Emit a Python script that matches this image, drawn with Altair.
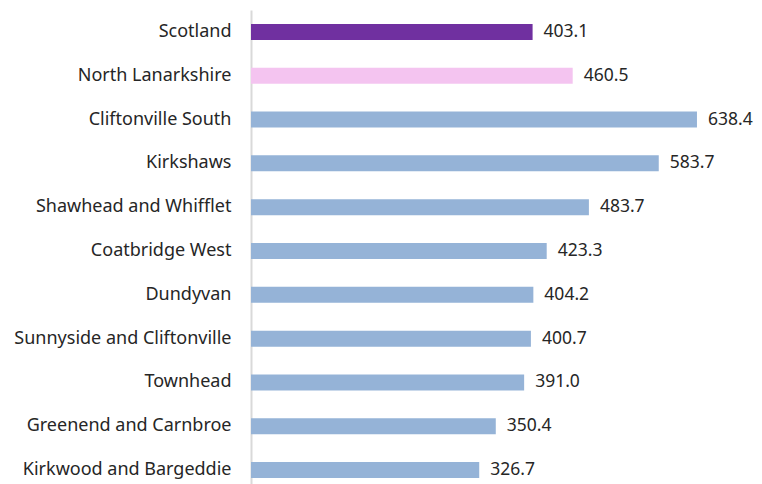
import altair as alt
import pandas as pd

areas = ["Scotland", "North Lanarkshire", "Cliftonville South", "Kirkshaws",
         "Shawhead and Whifflet", "Coatbridge West", "Dundyvan",
         "Sunnyside and Cliftonville", "Townhead", "Greenend and Carnbroe",
         "Kirkwood and Bargeddie"]
values = [403.1, 460.5, 638.4, 583.7, 483.7, 423.3, 404.2, 400.7, 391.0, 350.4, 326.7]
groups = ["Scotland", "North Lanarkshire"] + ["Ward"] * 9
colors = ["#7030A0", "#F4C4F0", "#95B3D7"]

df = pd.DataFrame({"area": areas, "value": values, "group": groups})
df["label"] = df["value"].map(lambda v: f"{v:.1f}")

FONT = "Noto Sans"

y = alt.Y("area:N", sort=areas, title=None,
          scale=alt.Scale(paddingInner=0, paddingOuter=0),
          axis=alt.Axis(labelFont=FONT, labelFontSize=18, labelColor="#262626",
                        labelPadding=20, ticks=False, domainColor="#D9D9D9",
                        domainWidth=2, labelLimit=300))
x = alt.X("value:Q", title=None, scale=alt.Scale(domain=[0, 700]), axis=None)

bars = alt.Chart(df).mark_bar(size=16).encode(
    x=x, y=y,
    color=alt.Color("group:N", scale=alt.Scale(domain=["Scotland", "North Lanarkshire", "Ward"],
                                                range=colors), legend=None))
text = alt.Chart(df).mark_text(align="left", dx=11, font=FONT, fontSize=17.5,
                               color="#262626").encode(x=x, y=y, text="label:N")

chart = (bars + text).properties(
    width=489, height=482,
    autosize=alt.AutoSizeParams(type="none"),
    padding={"left": 243, "top": 2, "right": 14, "bottom": 0},
).configure_view(stroke=None)

chart.save("out.html", embed_options={"renderer": "svg", "actions": False})
